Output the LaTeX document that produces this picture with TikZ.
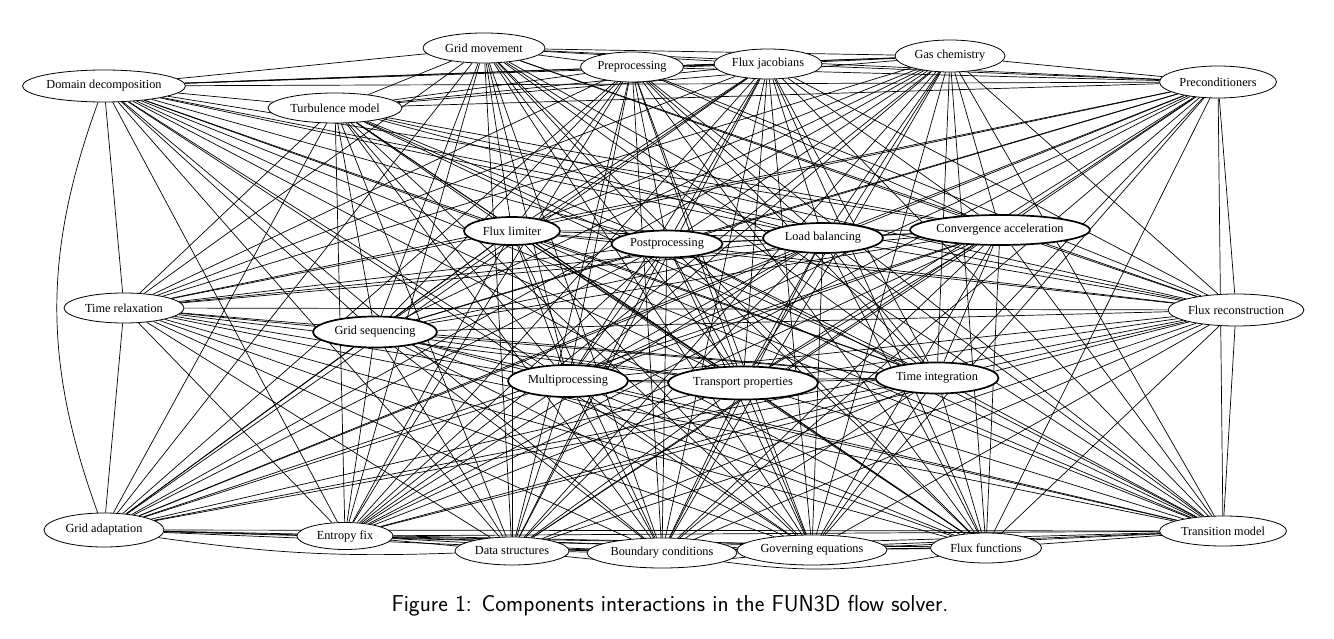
\documentclass[tikz,border=0pt]{standalone}
\usepackage{fontspec}
\setmainfont{Liberation Serif}
\usetikzlibrary{shapes.geometric,backgrounds}
\tikzset{
  comp/.style={ellipse, draw, fill=white, line width=0.8pt, inner sep=0pt,
    font=\fontsize{12.3}{14}\selectfont},
  hub/.style={comp, line width=1.7pt},
  link/.style={line width=0.7pt},
  edd-ga/.style={bend right=20},
  ega-ds/.style={bend right=5},
  ebc-ff/.style={bend right=9},
  eds-ge/.style={bend right=6},
}
\begin{document}
\begin{tikzpicture}[x=1pt,y=-1pt]
\useasboundingbox (0,0) rectangle (1334,639);
% top
\node[comp, minimum width=163, minimum height=32] (dd) at (104,86) {Domain decomposition};
\node[comp, minimum width=122, minimum height=30] (gm) at (484,48) {Grid movement};
\node[comp, minimum width=103, minimum height=30] (pp) at (632,67) {Preprocessing};
\node[comp, minimum width=108, minimum height=30] (fj) at (768,64) {Flux jacobians};
\node[comp, minimum width=110, minimum height=32] (gc) at (950,56) {Gas chemistry};
\node[comp, minimum width=117, minimum height=32] (pc) at (1218,82) {Preconditioners};
\node[comp, minimum width=134, minimum height=30] (tm) at (335,108) {Turbulence model};
% middle
\node[hub, minimum width=96, minimum height=28] (fl) at (512,231) {Flux limiter};
\node[hub, minimum width=111, minimum height=27] (po) at (667,244) {Postprocessing};
\node[hub, minimum width=120, minimum height=30] (lb) at (823,238) {Load balancing};
\node[hub, minimum width=176, minimum height=30] (ca) at (1000,230) {Convergence acceleration};
\node[comp, minimum width=120, minimum height=30] (tr) at (124,308) {Time relaxation};
\node[hub, minimum width=124, minimum height=31] (gs) at (375,332) {Grid sequencing};
\node[comp, minimum width=127, minimum height=32] (fr) at (1236,310) {Flux reconstruction};
\node[hub, minimum width=120, minimum height=32] (mp) at (568,381) {Multiprocessing};
\node[hub, minimum width=150, minimum height=33] (tp) at (743,383) {Transport properties};
\node[hub, minimum width=123, minimum height=31] (ti) at (937,378) {Time integration};
% bottom
\node[comp, minimum width=120, minimum height=34] (ga) at (104,530) {Grid adaptation};
\node[comp, minimum width=96, minimum height=27] (ef) at (345,536) {Entropy fix};
\node[comp, minimum width=114, minimum height=28] (ds) at (512,551) {Data structures};
\node[comp, minimum width=150, minimum height=30] (bc) at (662,553) {Boundary conditions};
\node[comp, minimum width=150, minimum height=30] (ge) at (812,550) {Governing equations};
\node[comp, minimum width=111, minimum height=30] (ff) at (986,548) {Flux functions};
\node[comp, minimum width=127, minimum height=30] (trm) at (1223,531) {Transition model};
% caption
\node[font=\sffamily\fontsize{23}{27}\selectfont] (cap) at (670,606)
  {Figure 1: Components interactions in the FUN3D flow solver.};
\begin{pgfonlayer}{background}
\foreach \a [count=\i] in {dd,gm,pp,fj,gc,pc,tm,fl,po,lb,ca,tr,gs,fr,mp,tp,ti,ga,ef,ds,bc,ge,ff,trm}{
  \foreach \b [count=\j] in {dd,gm,pp,fj,gc,pc,tm,fl,po,lb,ca,tr,gs,fr,mp,tp,ti,ga,ef,ds,bc,ge,ff,trm}{
    \ifnum\j>\i\relax
      \draw[link, e\a-\b/.try] (\a) to (\b);
    \fi
  }
}
\end{pgfonlayer}
\end{tikzpicture}
\end{document}
